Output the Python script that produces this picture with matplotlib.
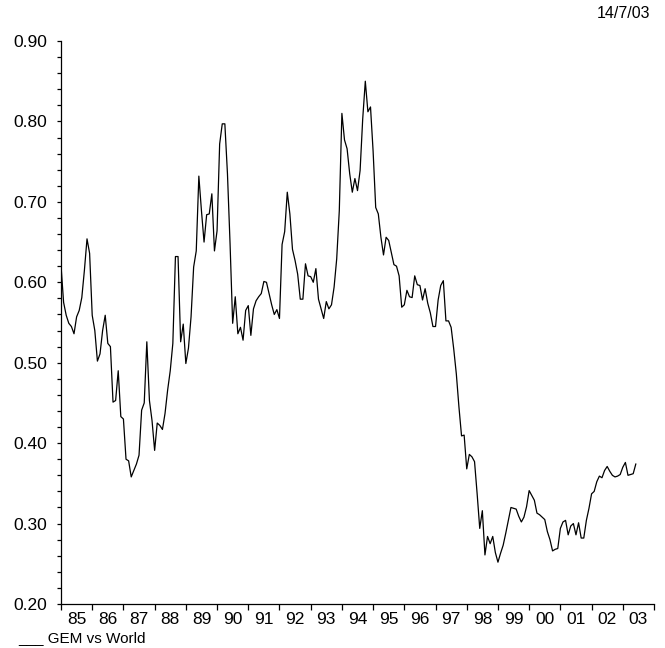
import numpy as np
import matplotlib
matplotlib.use("Agg")
import matplotlib.pyplot as plt
from matplotlib.ticker import MultipleLocator, FixedLocator, FixedFormatter

plt.rcParams['font.family'] = ['Liberation Sans', 'DejaVu Sans']

# GEM vs World relative ratio, monthly from Jan 1985
gem_85_89 = [0.621, 0.575, 0.559, 0.549, 0.545, 0.536, 0.557, 0.565, 0.581, 0.615,
             0.654, 0.636, 0.559, 0.540, 0.502, 0.511, 0.540, 0.559, 0.524, 0.520,
             0.451, 0.453, 0.490, 0.433, 0.430, 0.380, 0.378, 0.358, 0.366, 0.374,
             0.385, 0.441, 0.450, 0.526, 0.453, 0.428, 0.391, 0.425, 0.422, 0.417,
             0.437, 0.466, 0.490, 0.524, 0.632, 0.632, 0.526, 0.548, 0.499, 0.518,
             0.557, 0.619, 0.639]
gem_89_91 = [0.732, 0.689, 0.650, 0.684, 0.685, 0.710, 0.639, 0.664, 0.772, 0.797,
             0.797, 0.735, 0.648, 0.549, 0.582, 0.536, 0.544, 0.528, 0.565, 0.571,
             0.534, 0.567, 0.577]
gem_91_94 = [0.582, 0.586, 0.601, 0.600, 0.586, 0.572, 0.560, 0.566, 0.555, 0.647,
             0.663, 0.712, 0.685, 0.641, 0.627, 0.610, 0.579, 0.579, 0.623, 0.608,
             0.607, 0.600, 0.617, 0.579, 0.567, 0.555, 0.576, 0.567, 0.572, 0.594,
             0.629, 0.689, 0.810, 0.777, 0.766, 0.735, 0.712]
gem_94_97 = [0.729, 0.714, 0.739, 0.803, 0.850, 0.812, 0.818, 0.763, 0.693, 0.685,
             0.656, 0.634, 0.656, 0.652, 0.637, 0.622, 0.620, 0.608, 0.569, 0.572,
             0.590, 0.582, 0.581, 0.608, 0.597, 0.596, 0.578, 0.592, 0.574, 0.562,
             0.545, 0.545, 0.578, 0.596, 0.602]
gem_97_00 = [0.552, 0.552, 0.544, 0.517, 0.486, 0.445, 0.409, 0.410, 0.368, 0.386,
             0.383, 0.377, 0.337, 0.294, 0.316, 0.261, 0.284, 0.275, 0.284, 0.264,
             0.252, 0.263, 0.273, 0.288, 0.304, 0.320, 0.319, 0.318, 0.309, 0.302,
             0.308, 0.321, 0.341, 0.335, 0.329, 0.313]
gem_00_03 = [0.311, 0.308, 0.305, 0.290, 0.280, 0.266, 0.268, 0.269, 0.294, 0.302,
             0.304, 0.286, 0.297, 0.300, 0.286, 0.301, 0.282, 0.282, 0.304, 0.319,
             0.337, 0.340, 0.352, 0.359, 0.357, 0.366, 0.371, 0.365, 0.360, 0.358,
             0.359, 0.361, 0.370, 0.376, 0.360, 0.361, 0.362, 0.374]

start_year = 1985
years = list(range(1985, 2004))
year_labels = [f"{y % 100:02d}" for y in years]
y_ticks = [0.20, 0.30, 0.40, 0.50, 0.60, 0.70, 0.80, 0.90]
series_name = "GEM vs World"
date_stamp = "14/7/03"

values = np.array(gem_85_89 + gem_89_91 + gem_91_94 + gem_94_97 + gem_97_00 + gem_00_03)
t = start_year + np.arange(len(values)) / 12.0

fig = plt.figure(figsize=(6.65, 6.48), dpi=100)
ax = fig.add_axes([61 / 665, 44 / 648, 593 / 665, 563 / 648])

ax.plot(t, values, color='black', lw=0.9)

ax.set_xlim(years[0], years[-1] + 1)
ax.set_ylim(0.20, 0.90)

for s in ['top', 'right']:
    ax.spines[s].set_visible(False)
for s in ['left', 'bottom']:
    ax.spines[s].set_linewidth(0.9)

# year boundaries as ticks, labels centred in each year
ax.xaxis.set_major_locator(FixedLocator(years + [years[-1] + 1]))
ax.xaxis.set_major_formatter(FixedFormatter([''] * (len(years) + 1)))
ax.xaxis.set_minor_locator(FixedLocator([y + 0.5 for y in years]))
ax.xaxis.set_minor_formatter(FixedFormatter(year_labels))
ax.tick_params(axis='x', which='major', direction='out', length=4, width=0.9)
ax.tick_params(axis='x', which='minor', length=0, pad=6, labelsize=12.5)

ax.yaxis.set_major_locator(FixedLocator(y_ticks))
ax.set_yticklabels([f"{v:.2f}" for v in y_ticks])
ax.yaxis.set_minor_locator(MultipleLocator(0.02))
ax.tick_params(axis='y', which='both', direction='out', length=3, width=0.9,
               labelsize=12.5, pad=7)

fig.text(650 / 665, 1 - 13 / 648, date_stamp, ha='right', va='center', fontsize=11.5)
fig.text(18 / 665, 1 - 638 / 648, "___ " + series_name, ha='left', va='center',
         fontsize=11)

fig.savefig("out.png", dpi=100)
